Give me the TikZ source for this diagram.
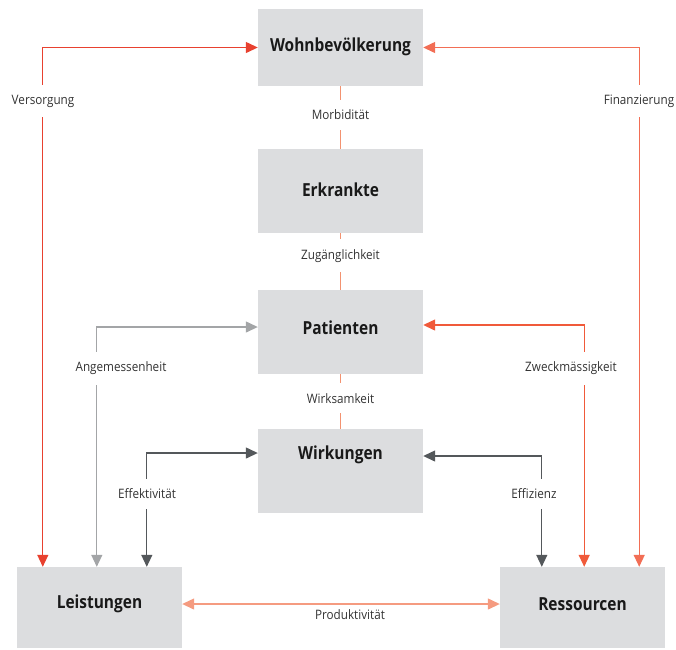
\documentclass[tikz,border=0pt]{standalone}
\usepackage{fontspec}
\setmainfont{Open Sans}[FakeStretch=0.9]
\newfontfamily\titlefont{Open Sans}[FakeStretch=0.86]
\usepackage{xcolor}
\usepackage{tikz}
\usetikzlibrary{arrows.meta}

\definecolor{boxgray}{HTML}{DCDDDF}
\definecolor{versred}{HTML}{E8412F}
\definecolor{finred}{HTML}{F26E55}
\definecolor{zweckred}{HTML}{F05A3A}
\definecolor{prodred}{HTML}{F59B80}
\definecolor{linkred}{HTML}{F39270}
\definecolor{lightgray}{HTML}{A3A5A7}
\definecolor{darkgray}{HTML}{54585B}

\begin{document}
\begin{tikzpicture}[x=1pt,y=-1pt,
  box/.style={fill=boxgray, inner sep=0pt, minimum width=165pt, minimum height=84pt},
  title/.style={font=\titlefont\bfseries\fontsize{18}{21}\selectfont, text=black!90},
  lab/.style={font=\fontsize{13}{15}\selectfont, text=black!80, fill=white, inner xsep=1pt, inner ysep=10pt},
  link/.style={line width=1pt, linkred},
  arr/.style={line width=1.3pt, {Triangle[length=12pt,width=11pt]}-{Triangle[length=12pt,width=11pt]}}]
\useasboundingbox (0,0) rectangle (676,649);

% boxes
\node[box, minimum height=77pt] (wohn) at (340.5,47.5) {};
\node[box] (erk) at (340.5,191) {};
\node[box] (pat) at (340.5,332) {};
\node[box] (wirk) at (340.5,471) {};
\node[box, minimum height=81pt] (leist) at (99.5,607.5) {};
\node[box, minimum height=81pt] (ress) at (582.5,607.5) {};

\node[title] (wohnT) at (340.5,47) {Wohnbevölkerung};
\node[title] (erkT) at (340.5,190) {Erkrankte};
\node[title] (patT) at (340.5,328) {Patienten};
\node[title] (wirkT) at (340.5,455) {Wirkungen};
\node[title] (leistT) at (99.5,604) {Leistungen};
\node[title] (ressT) at (582.5,604) {Ressourcen};

% chain in the middle
\draw[link] (wohn) -- (erk) node[lab, pos=0.46] (morbL) {Morbidität};
\draw[link] (erk) -- (pat) node[lab, pos=0.40] (zugL) {Zugänglichkeit};
\draw[link] (pat) -- (wirk) node[lab, pos=0.44] (wirkL) {Wirksamkeit};

% outer loops
\draw[arr, versred] (wohn.west) -| ([xshift=26pt]leist.north west);
\draw[arr, finred] (wohn.east) -| ([xshift=-26pt]ress.north east);
\node[lab] (versL) at (43,101) {Versorgung};
\node[lab] (finL) at (639,101) {Finanzierung};

\draw[arr, lightgray] ([yshift=5pt]pat.west) -| ([xshift=80pt]leist.north west);
\draw[arr, zweckred] ([yshift=7pt]pat.east) -| ([xshift=-81pt]ress.north east);
\node[lab] (angL) at (121,368) {Angemessenheit};
\node[lab] (zweckL) at (571,368) {Zweckmässigkeit};

\draw[arr, darkgray] ([yshift=18pt]wirk.west) -| ([xshift=130pt]leist.north west);
\draw[arr, darkgray] ([yshift=15pt]wirk.east) -| ([xshift=42pt]ress.north west);
\node[lab] (effL) at (147,494) {Effektivität};
\node[lab] (effzL) at (534,494) {Effizienz};

% bottom
\draw[arr, prodred] ([yshift=3.5pt]leist.east) -- ([yshift=3.5pt]ress.west);
\node[lab, fill=none, inner ysep=2pt] (prodL) at (350,615) {Produktivität};
\end{tikzpicture}
\end{document}
